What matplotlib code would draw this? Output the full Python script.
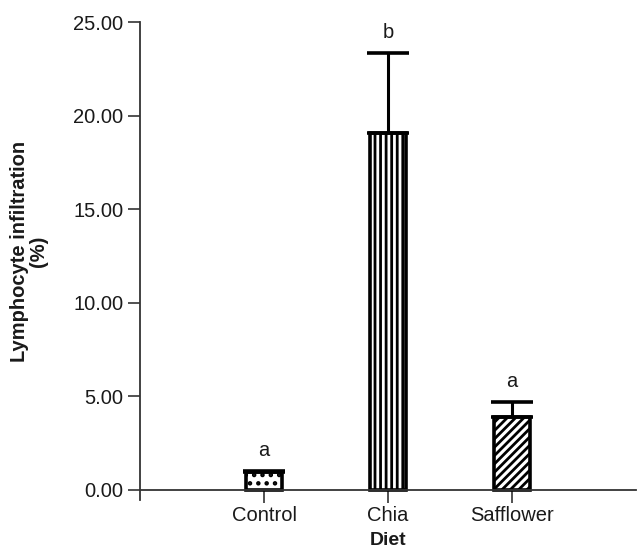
import numpy as np
import matplotlib
matplotlib.use("Agg")
from matplotlib import pyplot as plt

plt.rcParams["font.family"] = ["Liberation Sans", "DejaVu Sans"]
plt.rcParams["hatch.linewidth"] = 2.0

diets = ["Control", "Chia", "Safflower"]
means = [0.96, 19.07, 3.90]
sems = [0.04, 4.29, 0.80]
letters = ["a", "b", "a"]
hatches = ["..", "|||", "////"]
y_ticks = [0, 5, 10, 15, 20, 25]

fig = plt.figure(figsize=(6.38, 5.56), dpi=100)
ax = fig.add_axes([0.2194, 0.1007, 0.7776, 0.8597])

x = np.arange(1, len(diets) + 1)
bars = ax.bar(x, means, width=0.29, color="white", edgecolor="black",
              linewidth=2.6, zorder=2)
for b, h in zip(bars, hatches):
    b.set_hatch(h)

ax.errorbar(x, means, yerr=[np.zeros(len(sems)), sems], fmt="none",
            ecolor="black", elinewidth=2.2, capsize=15, capthick=2.6, zorder=3)

for xi, m, s, lab in zip(x, means, sems, letters):
    ax.text(xi, m + s + 0.8, lab, ha="center", va="baseline", fontsize=14.5,
            color="#1a1a1a")

ax.set_xlim(0, 4)
ax.set_ylim(-0.55, 25)
ax.spines["top"].set_visible(False)
ax.spines["right"].set_visible(False)
ax.spines["bottom"].set_position(("data", 0))
ax.spines["left"].set_bounds(-0.55, 25)
for sp in ["left", "bottom"]:
    ax.spines[sp].set_color("#333333")
    ax.spines[sp].set_linewidth(1.3)

ax.set_xticks(x)
ax.set_xticklabels(diets)
ax.set_yticks(y_ticks)
ax.set_yticklabels([f"{v:.2f}" for v in y_ticks])
ax.tick_params(axis="both", direction="out", length=9, width=1.2,
               color="#333333", labelsize=14.5, labelcolor="#1a1a1a", pad=3)

ax.set_ylabel("Lymphocyte infiltration\n(%)", fontsize=14.5, fontweight="bold",
              color="#1a1a1a", linespacing=1.0)
ax.yaxis.set_label_coords(-0.185, 0.52)
ax.set_xlabel("Diet", fontsize=14, fontweight="bold", color="#1a1a1a")
ax.xaxis.set_label_coords(0.5, -0.066)

fig.savefig("out.png", dpi=100)
